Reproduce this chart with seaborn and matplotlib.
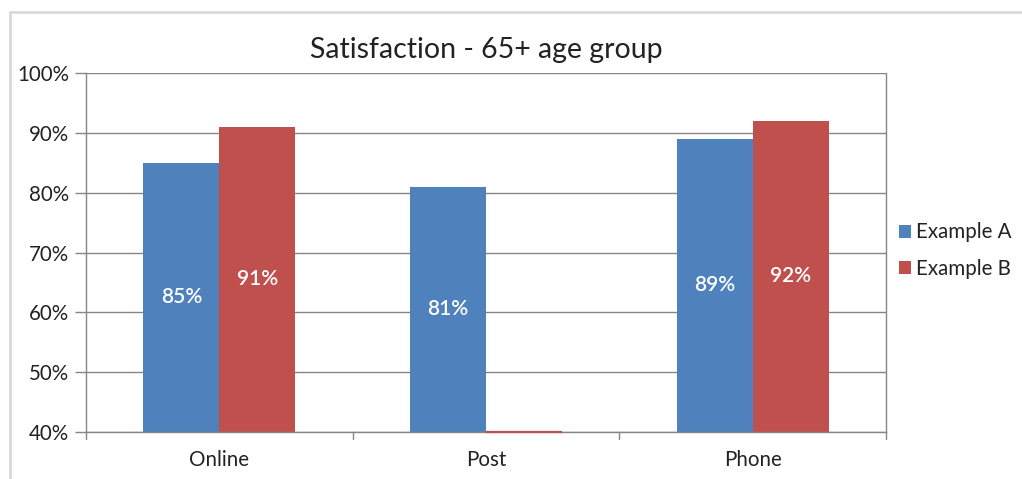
import matplotlib
matplotlib.use("Agg")
import matplotlib.pyplot as plt
import seaborn as sns
import pandas as pd
from matplotlib.patches import Rectangle

categories = ["Online", "Post", "Phone"]
series_names = ["Example A", "Example B"]
example_a = [0.85, 0.81, 0.89]
example_b = [0.91, 0.0, 0.92]
ytick_values = [0.4, 0.5, 0.6, 0.7, 0.8, 0.9, 1.0]
ytick_labels = ["40%", "50%", "60%", "70%", "80%", "90%", "100%"]

colors = ["#4F81BD", "#C0504D"]
grid_col = "#868686"

sns.set_theme(style="white")
plt.rcParams["font.family"] = ["Lato", "DejaVu Sans"]

df = pd.DataFrame({
    "category": categories * 2,
    "series": [series_names[0]] * 3 + [series_names[1]] * 3,
    "value": example_a + example_b,
})

fig = plt.figure(figsize=(10.22, 4.79), dpi=100)
ax = fig.add_axes([86 / 1022, 1 - 432 / 479, 800 / 1022, 359 / 479])

sns.barplot(data=df, x="category", y="value", hue="series", order=categories,
            hue_order=series_names, palette=colors, width=0.57, ax=ax,
            saturation=1, legend=True, edgecolor="none", linewidth=0)

ymin, ymax = ytick_values[0], ytick_values[-1]
ax.set_ylim(ymin, ymax)
ax.set_xlim(-0.5, 2.5)
ax.set_yticks(ytick_values)
ax.set_yticklabels(ytick_labels)
ax.yaxis.grid(True, color=grid_col, linewidth=1)
ax.set_axisbelow(True)
ax.set_xlabel("")
ax.set_ylabel("")

for s in ax.spines.values():
    s.set_color(grid_col)
    s.set_linewidth(1)
ax.spines["top"].set_visible(False)

# labels and clipped bars
for cont, vals in zip(ax.containers, [example_a, example_b]):
    for patch, v in zip(cont.patches, vals):
        if v <= ymin:
            col = patch.get_facecolor()
            x0 = patch.get_x()
            w = patch.get_width()
            ax.plot([x0, x0 + w], [ymin, ymin], color=col, lw=1.6,
                    clip_on=False, zorder=3, solid_capstyle="butt")
            continue
        xc = patch.get_x() + patch.get_width() / 2
        yc = (ymin + v) / 2
        ax.text(xc, yc, f"{round(v * 100)}%", ha="center", va="center",
                color="white", fontsize=15, fontweight="semibold")

ax.tick_params(axis="y", which="both", left=True, length=8, width=1,
               color=grid_col, labelsize=14.8, labelcolor="#222222", pad=4)
ax.tick_params(axis="x", which="both", bottom=False, labelsize=14.8,
               labelcolor="#222222", pad=7)
# category separator ticks
for xb in [-0.5, 0.5, 1.5, 2.5]:
    ax.plot([xb, xb], [ymin, ymin - 0.012], color=grid_col, lw=1,
            clip_on=False)

ax.set_title("Satisfaction - 65+ age group", fontsize=20.5, color="#222222",
             pad=11)

leg = ax.legend(loc="center left", bbox_to_anchor=(0.993, 0.505), frameon=False,
                fontsize=14.8, handlelength=0.6, handleheight=0.6,
                handletextpad=0.25, labelspacing=0.8)
for t in leg.get_texts():
    t.set_color("#222222")

# outer chart frame
fig.patches.append(Rectangle((10 / 1022, -0.1), 1.2, 1 - 12 / 479 + 0.1,
                             transform=fig.transFigure, fill=False,
                             edgecolor="#D9D9D9", linewidth=2))

fig.savefig("out.png", dpi=100, facecolor="white")
